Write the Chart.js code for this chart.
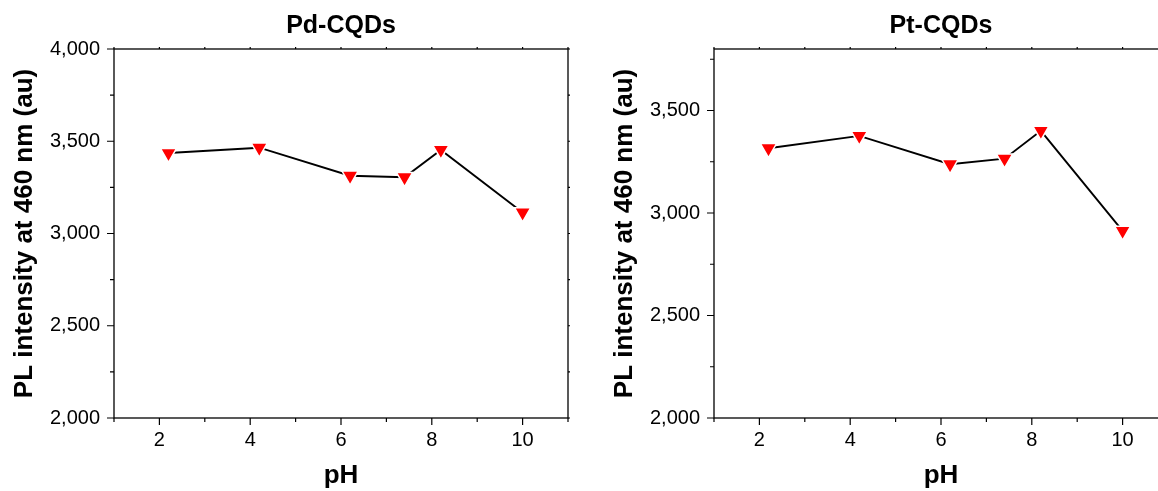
<!DOCTYPE html>
<html><head><meta charset="utf-8">
<script src="https://cdn.jsdelivr.net/npm/chart.js@4.4.1/dist/chart.umd.min.js"></script>
<style>
html,body{margin:0;padding:0;background:#fff;overflow:hidden;width:1158px;height:491px;}
#wrap{position:relative;width:1158px;height:491px;overflow:hidden;background:#fff;}
#c1{position:absolute;left:0;top:0;}
#c2{position:absolute;left:600px;top:0;}
</style></head><body>
<div id="wrap"><canvas id="c1" width="580" height="491"></canvas><canvas id="c2" width="600" height="491"></canvas></div>
<script>
const pH = [2.2, 4.2, 6.2, 7.4, 8.2, 10];
const pdIntensity = [3436, 3465, 3313, 3305, 3453, 3114];
const ptIntensity = [3316, 3376, 3238, 3265, 3401, 2913];
const xTickLabels = [2, 4, 6, 8, 10];
const pdYTicks = [2000, 2500, 3000, 3500, 4000];
const ptYTicks = [2000, 2500, 3000, 3500];
const titles = ['Pd-CQDs', 'Pt-CQDs'];
const xTitle = 'pH';
const yTitle = 'PL intensity at 460 nm (au)';

const FONT = "'Liberation Sans', Arial, Helvetica, sans-serif";

const framePlugin = {
  id: 'frame',
  afterDraw(chart, args, opts) {
    const ctx = chart.ctx;
    const {left, right, top, bottom} = chart.chartArea;
    const xs = chart.scales.x, ys = chart.scales.y;
    ctx.save();
    ctx.strokeStyle = '#000';
    ctx.lineWidth = 1.3;
    ctx.strokeRect(left, top, right - left, bottom - top);
    ctx.lineWidth = 1.2;
    ctx.beginPath();
    for (let v = xs.min; v <= xs.max + 1e-9; v += 1) {
      const px = xs.getPixelForValue(v);
      const major = Math.round(v) % 2 === 0;
      ctx.moveTo(px, bottom); ctx.lineTo(px, bottom + (major ? 7 : 4));
      ctx.moveTo(px, top); ctx.lineTo(px, top - 2);
    }
    for (let v = ys.min; v <= ys.max + 1e-9; v += 250) {
      const py = ys.getPixelForValue(v);
      const major = Math.round(v) % 500 === 0;
      ctx.moveTo(left, py); ctx.lineTo(left - (major ? 7 : 4), py);
      ctx.moveTo(right, py); ctx.lineTo(right + 2, py);
    }
    ctx.stroke();
    ctx.fillStyle = '#000';
    ctx.font = 'bold 25px ' + FONT;
    ctx.textAlign = 'center';
    ctx.textBaseline = 'middle';
    ctx.fillText(opts.text, (left + right) / 2, 26);
    ctx.restore();
  }
};

function makeChart(id, values, yMax, yLabels, title, rightPad) {
  const pts = pH.map((x, i) => ({x: x, y: values[i]}));
  return new Chart(document.getElementById(id), {
    type: 'scatter',
    data: {datasets: [{
      data: pts,
      showLine: true,
      borderColor: '#000',
      borderWidth: 1.9,
      pointStyle: 'triangle',
      rotation: 180,
      pointRadius: 9.3,
      pointHoverRadius: 9.3,
      pointBackgroundColor: '#ff0000',
      pointBorderColor: '#ffffff',
      pointBorderWidth: 1.5,
      tension: 0
    }]},
    options: {
      responsive: false,
      animation: false,
      devicePixelRatio: 1,
      layout: {padding: {top: 49, right: rightPad, left: 0, bottom: 0}},
      plugins: {legend: {display: false}, tooltip: {enabled: false}, title: {display: false}, frame: {text: title}},
      scales: {
        x: {
          type: 'linear', min: 1, max: 11,
          grid: {display: false, drawTicks: false},
          border: {display: false},
          afterFit(s) { s.height = 73; },
          afterBuildTicks(s) { s.ticks = xTickLabels.map(v => ({value: v})); },
          ticks: {
            autoSkip: false, maxRotation: 0, padding: 10,
            color: '#000', font: {family: FONT, size: 20},
            callback: v => String(v)
          },
          title: {display: true, text: xTitle, color: '#000', font: {family: FONT, size: 26, weight: 'bold'}, padding: {top: 0, bottom: 0}}
        },
        y: {
          type: 'linear', min: 2000, max: yMax,
          grid: {display: false, drawTicks: false},
          border: {display: false},
          afterFit(s) { s.width = 114; },
          afterBuildTicks(s) { s.ticks = yLabels.map(v => ({value: v})); },
          ticks: {
            autoSkip: false, padding: 14,
            color: '#000', font: {family: FONT, size: 20},
            callback: v => v.toLocaleString('en-US')
          },
          title: {display: true, text: yTitle, color: '#000', font: {family: FONT, size: 26, weight: 'bold'}, padding: {top: 9, bottom: 0}}
        }
      }
    },
    plugins: [framePlugin]
  });
}

makeChart('c1', pdIntensity, 4000, pdYTicks, titles[0], 12);
makeChart('c2', ptIntensity, 3800, ptYTicks, titles[1], 32);
</script>
</body></html>
